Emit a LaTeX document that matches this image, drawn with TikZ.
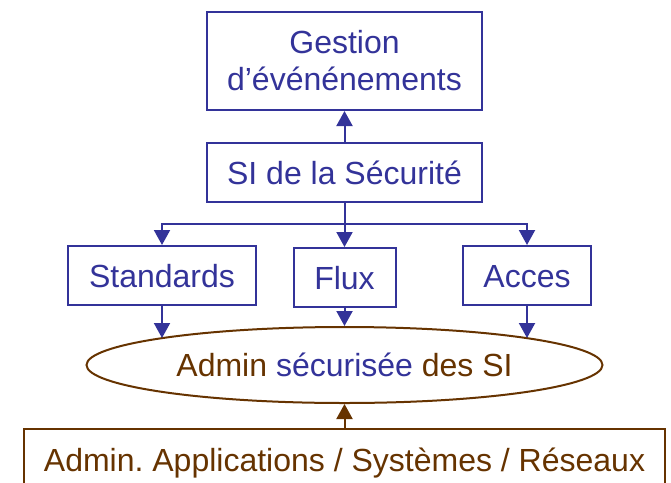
\documentclass[tikz,border=0pt]{standalone}
\usepackage{fontspec}
\setmainfont{Liberation Sans}
\usetikzlibrary{arrows.meta,shapes.geometric}
\definecolor{siblue}{RGB}{51,51,153}
\definecolor{sibrown}{RGB}{102,51,0}

\begin{document}
\begin{tikzpicture}[x=1pt,y=-1pt,font=\fontsize{32}{37}\selectfont,
  frame/.style={draw=siblue,text=siblue,line width=2pt,inner sep=0pt},
  box/.style={frame,minimum height=59pt,text height=23pt,text depth=0pt},
  link/.style={draw=siblue,line width=2pt,-{Triangle[width=16pt,length=15pt]}},
  uplink/.style={draw=sibrown,line width=2pt,-{Triangle[width=16pt,length=15pt]}}]
\useasboundingbox (0,0) rectangle (671,482);
\clip (0,0) rectangle (671,482);
\node[frame,minimum width=275pt,minimum height=98pt,align=center] (gest) at (344.5,61) {Gestion\\d’événénements};
\node[box,minimum width=275pt] (si) at (344.5,172.5) {SI de la Sécurité};
\node[box,minimum width=188pt] (std) at (162,275.5) {Standards};
\node[box,minimum width=102pt] (flux) at (344.5,277.5) {Flux};
\node[box,minimum width=128pt] (acc) at (527,275.5) {Acces};
\node[draw=sibrown,text=sibrown,line width=2pt,ellipse,inner sep=0pt,minimum width=516pt,minimum height=76pt,text height=23pt,text depth=0pt] (adm) at (344.5,365) {Admin \textcolor{siblue}{sécurisée} des SI};
\node[draw=sibrown,text=sibrown,line width=2pt,inner sep=0pt,minimum width=641pt,text height=42pt,text depth=38pt,anchor=north] (apps) at (344.5,428) {Admin.\ Applications / Systèmes / Réseaux};
\coordinate (fork) at (344.5,224);
\coordinate (stdtip) at (162,338);
\coordinate (acctip) at (527,338);
\draw[link] (si.north) -- (gest.south);
\draw[link] (si.south) -- (flux.north);
\draw[link] (fork) -| (std.north);
\draw[link] (fork) -| (acc.north);
\draw[link] (std.south) -- (stdtip);
\draw[link] (flux.south) -- (adm.north);
\draw[link] (acc.south) -- (acctip);
\draw[uplink] (apps.north) -- (adm.south);
\end{tikzpicture}
\end{document}
